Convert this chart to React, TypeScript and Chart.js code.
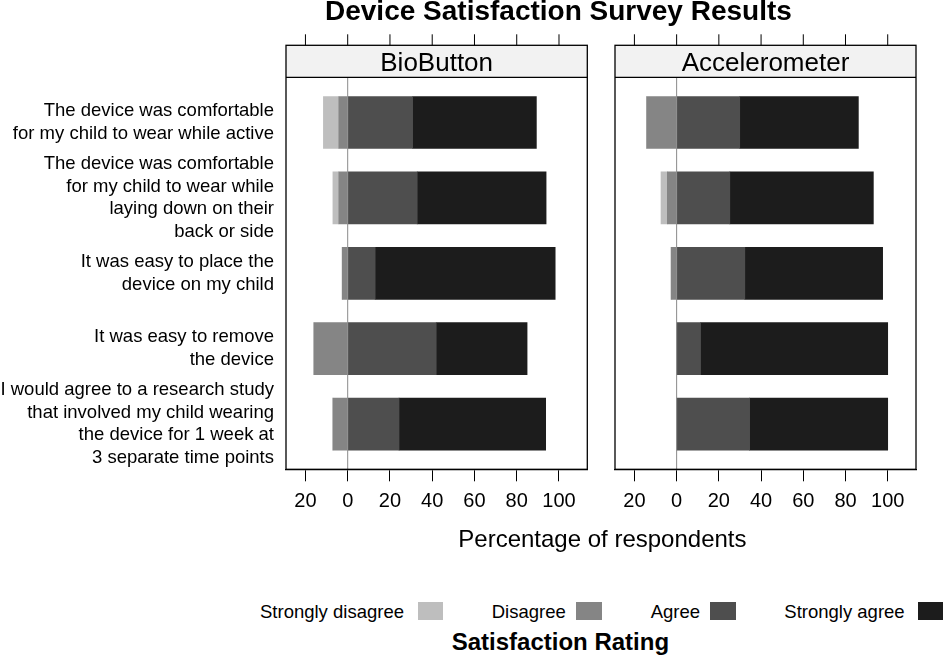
import React, { useEffect, useRef } from "react";
import { Chart, registerables } from "chart.js";

Chart.register(...registerables);

const FONT = "'Liberation Sans', Arial, Helvetica, sans-serif";

// ---------- data ----------
const questionLabels: string[][] = [
  ["The device was comfortable", "for my child to wear while active"],
  ["The device was comfortable", "for my child to wear while", "laying down on their", "back or side"],
  ["It was easy to place the", "device on my child"],
  ["It was easy to remove", "the device"],
  ["I would agree to a research study", "that involved my child wearing", "the device for 1 week at", "3 separate time points"],
];
const panelNames = ["BioButton", "Accelerometer"];
const ratingNames = ["Strongly disagree", "Disagree", "Agree", "Strongly agree"];
const ratingColors = ["#bebebe", "#858585", "#4e4e4e", "#1c1c1c"];
const xTickValues = [-20, 0, 20, 40, 60, 80, 100];

const bioStronglyDisagree = [7.3, 2.8, 0, 0, 0];
const bioDisagree = [4.2, 4.2, 2.6, 16.0, 7.0];
const bioAgree = [30.7, 32.9, 13.0, 41.9, 24.3];
const bioStronglyAgree = [58.6, 61.0, 85.2, 43.0, 69.4];

const accStronglyDisagree = [0, 3.0, 0, 0, 0];
const accDisagree = [14.2, 4.4, 2.6, 0, 0];
const accAgree = [29.9, 25.2, 32.3, 11.3, 34.6];
const accStronglyAgree = [56.2, 68.0, 65.3, 88.7, 65.4];

const X_MIN = -29.2;
const X_MAX = 113.4;
const PAD_UNITS = 0.6;
const STRIP_UNITS = 0.4245;

type PanelProps = {
  title: string;
  sd: number[];
  d: number[];
  a: number[];
  sa: number[];
  showY: boolean;
  left: number;
  width: number;
  padLeft: number;
  padRight: number;
};

function makePlugin(title: string) {
  return {
    id: "panelDecor",
    beforeDatasetsDraw(chart: any) {
      const { ctx, chartArea: ca, scales } = chart;
      const yStrip = scales.y.getPixelForValue(-PAD_UNITS);
      ctx.save();
      ctx.fillStyle = "#f2f2f2";
      ctx.fillRect(ca.left, ca.top, ca.right - ca.left, yStrip - ca.top);
      ctx.restore();
    },
    afterDatasetsDraw(chart: any) {
      const { ctx, chartArea: ca, scales } = chart;
      const yStrip = scales.y.getPixelForValue(-PAD_UNITS);
      const x0 = scales.x.getPixelForValue(0);
      ctx.save();
      ctx.lineWidth = 1;
      ctx.strokeStyle = "#8a8a8a";
      ctx.beginPath();
      ctx.moveTo(x0, yStrip);
      ctx.lineTo(x0, ca.bottom);
      ctx.stroke();
      ctx.strokeStyle = "#000";
      ctx.lineWidth = 1.3;
      ctx.beginPath();
      ctx.moveTo(ca.left, yStrip);
      ctx.lineTo(ca.right, yStrip);
      ctx.stroke();
      ctx.strokeRect(ca.left, ca.top, ca.right - ca.left, ca.bottom - ca.top);
      ctx.lineWidth = 1;
      ctx.beginPath();
      xTickValues.forEach((v) => {
        const px = scales.x.getPixelForValue(v);
        ctx.moveTo(px, ca.top);
        ctx.lineTo(px, ca.top - 11);
      });
      ctx.stroke();
      ctx.fillStyle = "#000";
      ctx.font = `26px ${FONT}`;
      ctx.textAlign = "center";
      ctx.textBaseline = "alphabetic";
      ctx.fillText(title, (ca.left + ca.right) / 2, (ca.top + yStrip) / 2 + 10);
      ctx.restore();
    },
  };
}

function Panel(props: PanelProps) {
  const ref = useRef<HTMLCanvasElement | null>(null);
  useEffect(() => {
    if (!ref.current) return;
    const toPts = (arr: number[], sign: number) => arr.map((v, i) => ({ x: sign * v, y: i }));
    // negative side: Disagree first so it sits next to zero, Strongly disagree outside
    const datasets = [
      { label: ratingNames[1], data: toPts(props.d, -1), backgroundColor: ratingColors[1] },
      { label: ratingNames[0], data: toPts(props.sd, -1), backgroundColor: ratingColors[0] },
      { label: ratingNames[2], data: toPts(props.a, 1), backgroundColor: ratingColors[2] },
      { label: ratingNames[3], data: toPts(props.sa, 1), backgroundColor: ratingColors[3] },
    ].map((ds) => ({ ...ds, barThickness: 52, borderWidth: 0 }));

    const chart = new Chart(ref.current, {
      type: "bar",
      data: { datasets: datasets as any },
      plugins: [makePlugin(props.title)],
      options: {
        animation: false,
        responsive: true,
        maintainAspectRatio: false,
        indexAxis: "y",
        layout: { padding: { left: props.padLeft, right: props.padRight, top: 45.3, bottom: 10.7 } },
        plugins: { legend: { display: false }, tooltip: { enabled: false }, title: { display: false } },
        scales: {
          x: {
            type: "linear",
            position: "bottom",
            stacked: true,
            offset: false,
            min: X_MIN,
            max: X_MAX,
            afterBuildTicks: (scale: any) => {
              scale.ticks = xTickValues.map((v) => ({ value: v }));
            },
            afterFit: (scale: any) => {
              scale.height = 50;
              scale.paddingLeft = 0;
              scale.paddingRight = 0;
            },
            ticks: {
              autoSkip: false,
              maxRotation: 0,
              padding: 8,
              color: "#000",
              font: { family: FONT, size: 20 },
              callback: (value: any) => String(Math.abs(Number(value))),
            },
            grid: { drawOnChartArea: false, drawTicks: true, tickLength: 12, color: "#000", lineWidth: 1 },
            border: { display: true, color: "#000", width: 1.3 },
          },
          y: {
            type: "linear",
            stacked: true,
            reverse: true,
            offset: false,
            display: props.showY,
            min: -PAD_UNITS - STRIP_UNITS,
            max: questionLabels.length - 1 + PAD_UNITS,
            afterBuildTicks: (scale: any) => {
              scale.ticks = questionLabels.map((_, i) => ({ value: i }));
            },
            afterFit: (scale: any) => {
              scale.width = props.showY ? 286 : 0;
              scale.paddingTop = 0;
              scale.paddingBottom = 0;
            },
            ticks: {
              autoSkip: false,
              padding: 12,
              color: "#000",
              font: { family: FONT, size: 18.5, lineHeight: 1.22 },
              callback: (value: any) => questionLabels[Number(value)] ?? "",
            },
            grid: { display: false, drawTicks: false },
            border: { display: false },
          },
        },
      } as any,
    });
    return () => chart.destroy();
  }, []);
  return (
    <div style={{ position: "absolute", left: props.left, top: 0, width: props.width, height: 530 }}>
      <canvas ref={ref} />
    </div>
  );
}

function Txt(props: { x: number; baseline: number; size: number; bold?: boolean; children: React.ReactNode }) {
  return (
    <div
      style={{
        position: "absolute",
        left: props.x,
        top: props.baseline - 0.8465 * props.size,
        fontFamily: FONT,
        fontSize: props.size,
        lineHeight: `${props.size}px`,
        fontWeight: props.bold ? "bold" : "normal",
        whiteSpace: "nowrap",
        color: "#000",
      }}
    >
      {props.children}
    </div>
  );
}

const legendTextX = [260, 491.7, 650.7, 784.3];
const legendBoxX = [417.7, 576, 710, 917.5];

export default function App() {
  return (
    <div
      style={{
        position: "absolute",
        left: 0,
        top: 0,
        width: 944,
        height: 657,
        overflow: "hidden",
        background: "#fff",
      }}
    >
      <Panel
        title={panelNames[0]}
        sd={bioStronglyDisagree}
        d={bioDisagree}
        a={bioAgree}
        sa={bioStronglyAgree}
        showY={true}
        left={0}
        width={600}
        padLeft={0}
        padRight={12.7}
      />
      <Panel
        title={panelNames[1]}
        sd={accStronglyDisagree}
        d={accDisagree}
        a={accAgree}
        sa={accStronglyAgree}
        showY={false}
        left={600}
        width={344}
        padLeft={15}
        padRight={28}
      />
      <Txt x={325} baseline={21} size={28} bold>
        Device Satisfaction Survey Results
      </Txt>
      <Txt x={458.3} baseline={547} size={24}>
        Percentage of respondents
      </Txt>
      {ratingNames.map((n, i) => (
        <Txt key={n} x={legendTextX[i]} baseline={618.3} size={18.5}>
          {n}
        </Txt>
      ))}
      {ratingColors.map((c, i) => (
        <div
          key={c}
          style={{ position: "absolute", left: legendBoxX[i], top: 602, width: 25.5, height: 18, background: c }}
        />
      ))}
      <Txt x={451.7} baseline={650} size={24} bold>
        Satisfaction Rating
      </Txt>
    </div>
  );
}
